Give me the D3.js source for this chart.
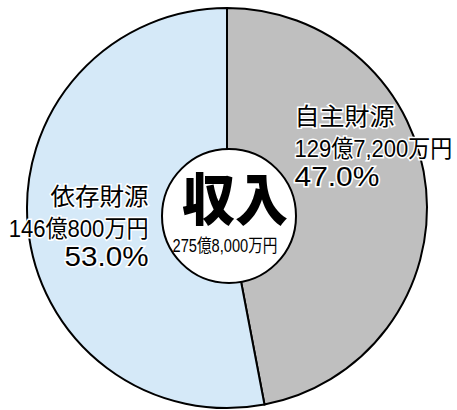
<!DOCTYPE html>
<html>
<head>
<meta charset="utf-8">
<script src="https://cdn.jsdelivr.net/npm/d3@7"></script>
<style>
  body { margin: 0; background: #fff; }
  svg text { font-family: "Liberation Sans", "Noto Sans CJK JP", sans-serif; }
</style>
</head>
<body>
<div id="wrapper"></div>
<script>
// data
const categories = ["自主財源", "依存財源"];
const shares = [47.0, 53.0];
const amounts = ["129億7,200万円", "146億800万円"];
const colors = ["#bfbfbf", "#d5e9f8"];
const centerTitle = "収入";
const centerTotal = "275億8,000万円";

// squeeze/stretch a text horizontally to a given width
function fitWidth(sel, x, y, len) {
  const natural = sel.node().getComputedTextLength();
  sel.attr("transform", `translate(${x},${y}) scale(${len / natural},1)`);
}

function drawPie() {
  const width = 457, height = 410;
  const cx = 227, cy = 208, radius = 200;

  const svg = d3.select("#wrapper").append("svg")
    .attr("width", width)
    .attr("height", height);

  const g = svg.append("g")
    .attr("transform", `translate(${cx},${cy})`);

  const pie = d3.pie().sort(null).value(d => d);
  const arcs = pie(shares);
  const arc = d3.arc().innerRadius(0).outerRadius(radius);

  g.selectAll(".slice")
    .data(arcs)
    .enter().append("path")
    .attr("class", "slice")
    .attr("d", arc)
    .attr("fill", (d, i) => colors[i])
    .attr("stroke", "#000")
    .attr("stroke-width", 2);

  // labels, placed relative to the slice centroid
  const labelArc = d3.arc().innerRadius(radius * 0.6).outerRadius(radius * 0.6);
  const labelOpts = [
    { dx: -52, dy: -72, anchor: "start", names: 100, amt: 158, pct: 85 },
    { dx: 41, dy: -14, anchor: "end", names: 98, amt: 140, pct: 84 }
  ];

  arcs.forEach((d, i) => {
    const [x, y] = labelArc.centroid(d);
    const o = labelOpts[i];
    const lx = x + o.dx, ly = y + o.dy;
    const grp = g.append("g")
      .attr("text-anchor", o.anchor);

    const lines = [
      { t: categories[i], size: 24, y: 0, len: o.names },
      { t: amounts[i], size: 24, y: 32, len: o.amt },
      { t: d3.format(".1f")(shares[i]) + "%", size: 27, y: 61, len: o.pct }
    ];
    lines.forEach(l => {
      const t = grp.append("text")
        .attr("font-size", l.size)
        .attr("fill", "#000")
        .attr("stroke", "#fff")
        .attr("stroke-width", 3)
        .attr("paint-order", "stroke")
        .text(l.t);
      fitWidth(t, lx, ly + l.y, l.len);
    });
  });

  // centre circle
  const centre = svg.append("g").attr("transform", `translate(${cx + 2},${cy + 8})`);
  centre.append("circle")
    .attr("r", 67)
    .attr("fill", "#fff")
    .attr("stroke", "#000")
    .attr("stroke-width", 2);

  const title = centre.append("text")
    .attr("text-anchor", "middle")
    .attr("font-size", 56)
    .attr("font-weight", 900)
    .text(centerTitle);
  fitWidth(title, 6, 4, 106);

  const total = centre.append("text")
    .attr("text-anchor", "middle")
    .attr("font-size", 18)
    .text(centerTotal);
  fitWidth(total, -4, 36, 105);
}
drawPie();
</script>
</body>
</html>
